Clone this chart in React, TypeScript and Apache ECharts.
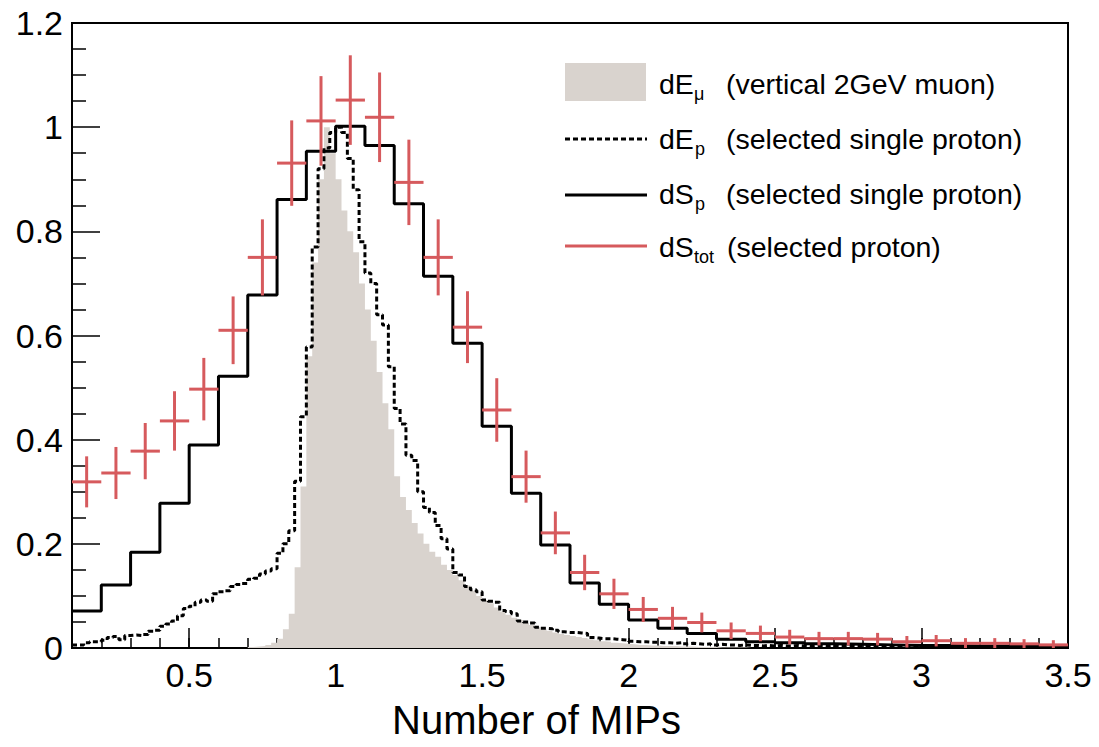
import React, { useEffect, useRef } from "react";
import * as echarts from "echarts";

// ---------- data ----------
const xMin = 0.1;
const xMax = 3.5;
const xTickLabels = [0.5, 1, 1.5, 2, 2.5, 3, 3.5];

// fine histograms: 0.02-wide bins starting at 0.10
const fineBinStart = 0.1;
const fineBinWidth = 0.02;

// dE_mu (vertical 2GeV muon) — grey filled
const dEmu = [
  0, 0, 0, 0, 0, 0, 0, 0, 0, 0,
  0, 0, 0, 0, 0, 0, 0, 0, 0, 0,
  0, 0, 0, 0, 0, 0, 0, 0, 0, 0,
  0.002, 0.003, 0.004, 0.006, 0.010, 0.018, 0.036, 0.066, 0.155, 0.310,
  0.560, 0.740, 0.900, 1.000, 0.950, 0.900, 0.840, 0.800, 0.760, 0.700,
  0.650, 0.590, 0.530, 0.470, 0.420, 0.330, 0.290, 0.265, 0.240, 0.220,
  0.200, 0.185, 0.175, 0.160, 0.150, 0.140, 0.130, 0.120, 0.110, 0.100,
  0.092, 0.086, 0.078, 0.070, 0.064, 0.058, 0.054, 0.048, 0.044, 0.040,
  0.036, 0.033, 0.030, 0.027, 0.025, 0.023, 0.021, 0.019, 0.017, 0.015,
  0.013, 0.012, 0.010, 0.009, 0.008, 0.007, 0.006, 0.006, 0.005, 0.005,
  0.004, 0.004, 0.004, 0.003, 0.003, 0.003, 0.002, 0.002, 0.002, 0.002,
  0.001, 0.001, 0.001, 0.001, 0.001, 0, 0, 0, 0, 0,
  0, 0, 0, 0, 0, 0, 0, 0, 0, 0,
  0, 0, 0, 0, 0, 0, 0, 0, 0, 0,
  0, 0, 0, 0, 0, 0, 0, 0, 0, 0,
  0, 0, 0, 0, 0, 0, 0, 0, 0, 0,
  0, 0, 0, 0, 0, 0, 0, 0, 0, 0,
];

// dE_p (selected single proton) — dotted
const dEp = [
  0.006, 0.006, 0.010, 0.012, 0.012, 0.015, 0.020, 0.022, 0.016, 0.024,
  0.025, 0.024, 0.026, 0.032, 0.034, 0.042, 0.046, 0.052, 0.062, 0.076,
  0.080, 0.088, 0.092, 0.090, 0.104, 0.108, 0.110, 0.118, 0.122, 0.124,
  0.132, 0.134, 0.142, 0.148, 0.152, 0.182, 0.200, 0.225, 0.320, 0.444,
  0.578, 0.770, 0.920, 0.960, 0.990, 1.000, 0.990, 0.940, 0.880, 0.780,
  0.720, 0.700, 0.640, 0.620, 0.540, 0.460, 0.430, 0.370, 0.360, 0.300,
  0.270, 0.260, 0.235, 0.210, 0.190, 0.145, 0.140, 0.118, 0.112, 0.108,
  0.092, 0.090, 0.088, 0.072, 0.070, 0.066, 0.052, 0.050, 0.048, 0.040,
  0.038, 0.037, 0.034, 0.031, 0.030, 0.030, 0.029, 0.028, 0.020, 0.019,
  0.018, 0.018, 0.017, 0.016, 0.015, 0.013, 0.012, 0.012, 0.011, 0.011,
  0.010, 0.010, 0.009, 0.010, 0.008, 0.009, 0.008, 0.007, 0.008, 0.006,
  0.007, 0.006, 0.006, 0.005, 0.006, 0.005, 0.005, 0.004, 0.005, 0.004,
  0.005, 0.004, 0.004, 0.005, 0.004, 0.003, 0.004, 0.004, 0.003, 0.004,
  0.003, 0.003, 0.004, 0.003, 0.003, 0.003, 0.002, 0.003, 0.003, 0.002,
  0.003, 0.002, 0.002, 0.003, 0.002, 0.002, 0.002, 0.003, 0.002, 0.002,
  0.002, 0.002, 0.001, 0.002, 0.002, 0.001, 0.002, 0.002, 0.001, 0.002,
  0.001, 0.002, 0.001, 0.001, 0.002, 0.001, 0.001, 0.001, 0.002, 0.001,
];

// coarse histograms: 0.1-wide bins starting at 0.10
const coarseBinStart = 0.1;
const coarseBinWidth = 0.1;

// dS_p (selected single proton) — solid
const dSp = [
  0.071, 0.121, 0.184, 0.278, 0.390, 0.522, 0.678, 0.861, 0.954, 1.002,
  0.965, 0.853, 0.714, 0.585, 0.426, 0.297, 0.198, 0.125, 0.084, 0.054,
  0.038, 0.028, 0.017, 0.012, 0.010, 0.008, 0.007, 0.006, 0.005, 0.005,
  0.004, 0.004, 0.003, 0.003,
];

// dS_tot (selected proton) — red points with errors
const dStot = [
  0.319, 0.336, 0.378, 0.436, 0.497, 0.610, 0.750, 0.931, 1.012, 1.052,
  1.019, 0.894, 0.750, 0.616, 0.457, 0.329, 0.221, 0.145, 0.104, 0.074,
  0.057, 0.049, 0.033, 0.028, 0.021, 0.018, 0.018, 0.017, 0.012, 0.014,
  0.009, 0.009, 0.008, 0.006,
];
const dStotErr = [
  0.049, 0.050, 0.054, 0.057, 0.060, 0.065, 0.073, 0.082, 0.086, 0.086,
  0.086, 0.082, 0.073, 0.069, 0.061, 0.050, 0.041, 0.034, 0.029, 0.024,
  0.022, 0.019, 0.016, 0.015, 0.014, 0.013, 0.013, 0.012, 0.011, 0.011,
  0.010, 0.010, 0.009, 0.009,
];

// ---------- styles ----------
const RED = "#d65a5d";
const GREY_FILL = "#d9d3ce";
const FONT = "Liberation Sans";

const r4 = (v: number) => Math.round(v * 10000) / 10000;

function stepData(values: number[], start: number, width: number) {
  const pts: number[][] = values.map((v, i) => [r4(start + i * width), v]);
  pts.push([r4(start + values.length * width), values[values.length - 1]]);
  return pts;
}

function crossData(values: number[], errs: number[], start: number, width: number) {
  return values.map((v, i) => [r4(start + (i + 0.5) * width), v, errs[i]]);
}

function legendRow(y: number, main: string, sub: string, rest: string, subX: number, restX: number) {
  return [
    { type: "text", x: 659, y, style: { text: main, fill: "#000", font: `28.5px "${FONT}"`, verticalAlign: "middle" } },
    { type: "text", x: subX, y: y + 10, style: { text: sub, fill: "#000", font: `18px "${FONT}"`, verticalAlign: "middle" } },
    { type: "text", x: restX, y, style: { text: rest, fill: "#000", font: `28.5px "${FONT}"`, verticalAlign: "middle" } },
  ];
}

function buildOption() {
  const axisColor = "#000";
  return {
    animation: false,
    backgroundColor: "#fff",
    grid: {
      left: 72,
      right: 31,
      top: 23,
      bottom: 99,
      show: true,
      borderColor: "#000",
      borderWidth: 2,
      backgroundColor: "transparent",
      containLabel: false,
      outerBoundsMode: "none",
    },
    xAxis: [
      {
        type: "value",
        min: xMin,
        max: xMax,
        position: "bottom",
        axisLine: { show: false },
        splitLine: { show: false },
        axisTick: {
          show: true,
          inside: true,
          length: 20,
          customValues: xTickLabels,
          lineStyle: { color: axisColor, width: 1.5 },
        },
        axisLabel: {
          show: true,
          customValues: xTickLabels,
          color: "#000",
          fontFamily: FONT,
          fontSize: 34,
          margin: 10,
          showMinLabel: true,
          showMaxLabel: true,
        },
      },
      {
        type: "value",
        min: xMin,
        max: xMax,
        interval: 0.1,
        position: "bottom",
        axisLine: { show: false },
        splitLine: { show: false },
        axisLabel: { show: false },
        axisTick: {
          show: true,
          inside: true,
          length: 10,
          lineStyle: { color: axisColor, width: 1.5 },
        },
      },
    ],
    yAxis: {
      type: "value",
      min: 0,
      max: 1.2,
      interval: 0.2,
      axisLine: { show: false },
      splitLine: { show: false },
      axisTick: {
        show: true,
        inside: true,
        length: 28,
        lineStyle: { color: axisColor, width: 1.5 },
      },
      minorTick: {
        show: true,
        splitNumber: 4,
        length: 14,
        lineStyle: { color: axisColor, width: 1.5 },
      },
      axisLabel: {
        color: "#000",
        fontFamily: FONT,
        fontSize: 34,
        margin: 9,
        padding: [10, 0, 0, 0],
      },
    },
    graphic: [
      {
        type: "text",
        left: 392,
        top: 700,
        style: {
          text: "Number of MIPs",
          fill: "#000",
          font: `40px "${FONT}"`,
        },
      },
      // legend
      { type: "rect", shape: { x: 565, y: 63, width: 81, height: 38 }, style: { fill: GREY_FILL } },
      { type: "line", shape: { x1: 565, y1: 139, x2: 647, y2: 139 }, style: { stroke: "#000", lineWidth: 3, lineDash: [5, 3] } },
      { type: "line", shape: { x1: 565, y1: 195, x2: 647, y2: 195 }, style: { stroke: "#000", lineWidth: 3 } },
      { type: "line", shape: { x1: 565, y1: 246, x2: 647, y2: 246 }, style: { stroke: RED, lineWidth: 3 } },
      ...legendRow(84, "dE", "μ", "(vertical 2GeV muon)", 694, 726),
      ...legendRow(139, "dE", "p", "(selected single proton)", 695, 726),
      ...legendRow(194, "dS", "p", "(selected single proton)", 695, 726),
      ...legendRow(247, "dS", "tot", "(selected proton)", 694, 727),
    ],
    series: [
      {
        name: "dEmu (vertical 2GeV muon)",
        type: "line",
        step: "end",
        xAxisIndex: 0,
        yAxisIndex: 0,
        data: stepData(dEmu, fineBinStart, fineBinWidth),
        showSymbol: false,
        symbol: "none",
        lineStyle: { width: 0, color: GREY_FILL },
        areaStyle: { color: GREY_FILL, opacity: 1 },
        z: 1,
      },
      {
        name: "dEp (selected single proton)",
        type: "line",
        step: "end",
        xAxisIndex: 0,
        yAxisIndex: 0,
        data: stepData(dEp, fineBinStart, fineBinWidth),
        showSymbol: false,
        symbol: "none",
        lineStyle: { width: 3, color: "#000", type: [5, 3] },
        z: 3,
      },
      {
        name: "dSp (selected single proton)",
        type: "line",
        step: "end",
        xAxisIndex: 0,
        yAxisIndex: 0,
        data: stepData(dSp, coarseBinStart, coarseBinWidth),
        showSymbol: false,
        symbol: "none",
        lineStyle: { width: 3, color: "#000" },
        z: 4,
      },
      {
        name: "dStot (selected proton)",
        type: "custom",
        xAxisIndex: 0,
        yAxisIndex: 0,
        clip: true,
        z: 5,
        data: crossData(dStot, dStotErr, coarseBinStart, coarseBinWidth),
        renderItem: (params: any, api: any) => {
          const x = api.value(0);
          const y = api.value(1);
          const e = api.value(2);
          const half = coarseBinWidth / 2;
          const l = api.coord([x - half, y]);
          const r = api.coord([x + half, y]);
          const t = api.coord([x, y + e]);
          const b = api.coord([x, Math.max(0, y - e)]);
          const st = { stroke: RED, lineWidth: 3, fill: "none" };
          return {
            type: "group",
            children: [
              { type: "line", shape: { x1: l[0], y1: l[1], x2: r[0], y2: r[1] }, style: st },
              { type: "line", shape: { x1: t[0], y1: t[1], x2: b[0], y2: b[1] }, style: st },
            ],
          };
        },
      },
    ],
  };
}

export default function App() {
  const ref = useRef<HTMLDivElement>(null);
  useEffect(() => {
    if (!ref.current) return;
    const chart = echarts.init(ref.current, null, { renderer: "svg" });
    chart.setOption(buildOption() as any);
    return () => chart.dispose();
  }, []);
  return (
    <div
      ref={ref}
      style={{ position: "absolute", left: 0, top: 0, width: 1099, height: 747, background: "#fff" }}
    />
  );
}
